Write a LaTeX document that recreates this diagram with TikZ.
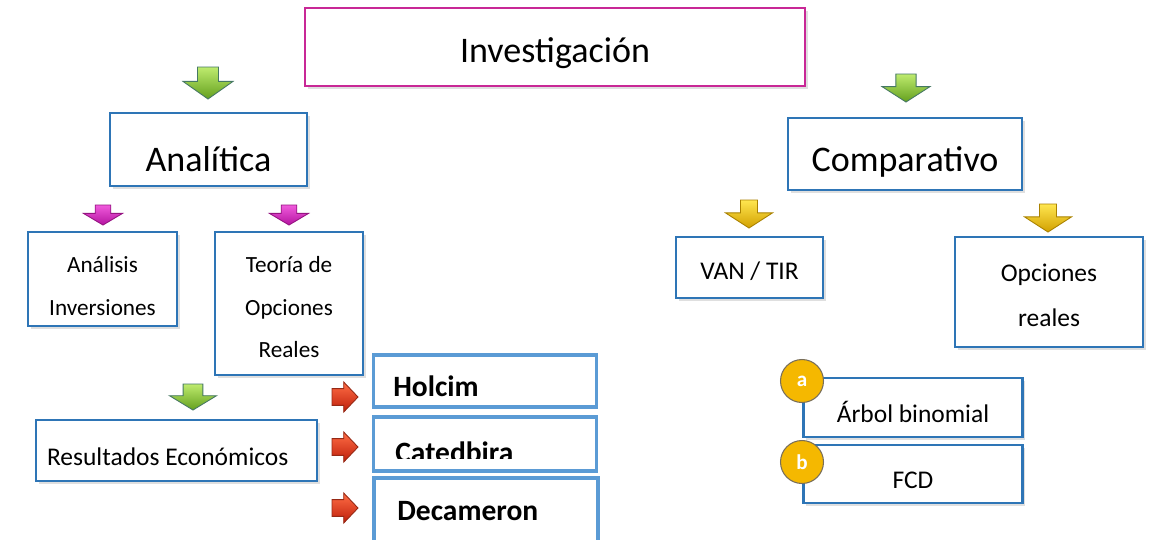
\documentclass[tikz,border=0pt]{standalone}
\usepackage{fontspec}
\setmainfont{Carlito}
\usetikzlibrary{shadows}

\definecolor{boxblue}{RGB}{46,117,182}
\definecolor{lightblue}{RGB}{91,155,213}
\definecolor{invpink}{RGB}{200,40,150}
\definecolor{badge}{RGB}{245,184,0}

\tikzset{
  box/.style={draw=boxblue, line width=1.6pt, fill=white, align=center,
    drop shadow={shadow xshift=1.5pt, shadow yshift=-1.5pt, opacity=0.25},
    font=\fontsize{14.5}{26}\selectfont},
  smallbox/.style={box, font=\fontsize{13.2}{24.4}\selectfont},
  bigbox/.style={box, font=\fontsize{20.5}{24}\selectfont},
  firmbox/.style={draw=lightblue, line width=1.8pt, fill=white, anchor=west, inner sep=0pt},
  firmtext/.style={anchor=base west, inner sep=0pt, font=\fontsize{16.8}{20}\selectfont\bfseries},
  greenarrow/.style={draw={rgb,255:red,70;green,120;blue,100}, line width=0.5pt,
    top color={rgb,255:red,190;green,235;blue,110}, bottom color={rgb,255:red,100;green,160;blue,30}},
  pinkarrow/.style={draw={rgb,255:red,150;green,20;blue,130}, line width=0.5pt,
    top color={rgb,255:red,240;green,90;blue,220}, bottom color={rgb,255:red,180;green,20;blue,160}},
  goldarrow/.style={draw={rgb,255:red,170;green,130;blue,0}, line width=0.5pt,
    top color={rgb,255:red,255;green,230;blue,80}, bottom color={rgb,255:red,210;green,160;blue,0}},
  redarrow/.style={draw={rgb,255:red,150;green,40;blue,20}, line width=0.5pt,
    top color={rgb,255:red,255;green,110;blue,70}, bottom color={rgb,255:red,190;green,30;blue,10}},
  % unit block arrows, sized with xscale/yscale
  greendown/.pic={\path[greenarrow] (-0.21,0) -- (0.21,0) -- (0.21,0.45) -- (0.5,0.45) -- (0,1) -- (-0.5,0.45) -- (-0.21,0.45) -- cycle;},
  pinkdown/.pic={\path[pinkarrow] (-0.2,0) -- (0.2,0) -- (0.2,0.42) -- (0.5,0.42) -- (0,1) -- (-0.5,0.42) -- (-0.2,0.42) -- cycle;},
  golddown/.pic={\path[goldarrow] (-0.18,0) -- (0.18,0) -- (0.18,0.46) -- (0.5,0.46) -- (0,1) -- (-0.5,0.46) -- (-0.18,0.46) -- cycle;},
  redright/.pic={\path[redarrow] (0,-0.28) -- (0.45,-0.28) -- (0.45,-0.5) -- (1,0) -- (0.45,0.5) -- (0.45,0.28) -- (0,0.28) -- cycle;},
  badgecirc/.style={circle, draw={rgb,255:red,120;green,110;blue,90}, line width=0.6pt,
    fill=badge, minimum size=0.86cm, inner sep=0pt, text=white, font=\large\bfseries}
}

\begin{document}
\begin{tikzpicture}[x=0.02cm,y=-0.02cm]
\useasboundingbox[fill=white] (0,0) rectangle (1173,539);

% top level
\node[bigbox, draw=invpink, minimum width=10cm, minimum height=1.56cm,
  text height=21.6pt, text depth=4pt] (inv) at (555,47) {Investigación};

\pic[xscale=50, yscale=32] (ga) at (208,67) {greendown};
\pic[xscale=48, yscale=28] (gc) at (906,74) {greendown};

\node[bigbox, minimum width=3.94cm, minimum height=1.46cm,
  text height=24.5pt, text depth=0pt] (ana) at (208.5,149.5) {Analítica};
\node[bigbox, minimum width=4.68cm, minimum height=1.44cm,
  text height=23.8pt, text depth=4pt] (comp) at (905,154) {Comparativo};

% left branch
\pic[xscale=39, yscale=20] (pa) at (103,205) {pinkdown};
\pic[xscale=39, yscale=20] (pt) at (289,205) {pinkdown};

\node[smallbox, minimum width=2.98cm, minimum height=1.88cm] (anainv) at (102.5,279)
  {\rule{0pt}{16.8pt}Análisis\\Inversiones};
\node[smallbox, minimum width=2.96cm, minimum height=2.86cm] (teoria) at (289,303.5)
  {\rule{0pt}{13.3pt}Teoría de\\Opciones\\Reales};

\pic[xscale=47, yscale=26] (gr) at (193,384) {greendown};
\node[box, minimum width=5.62cm, minimum height=1.22cm,
  text height=17pt, text depth=0pt] (res) at (176.5,450.5) {Resultados Económicos\hspace*{10pt}};

% firms
\pic[xscale=26, yscale=30] (rh) at (332,397) {redright};
\pic[xscale=26, yscale=30] (rc) at (332,447) {redright};
\pic[xscale=26, yscale=30] (rd) at (332,508) {redright};

\node[firmbox, minimum width=4.46cm, minimum height=1.04cm] (holcim) at (372,381) {};
\node[firmtext] (holcimtxt) at (393,396) {Holcim};
\begin{scope}
\clip (372,418) rectangle (594,458);
\node[firmtext] (catedtxt) at (395,462) {Catedbira};
\end{scope}
\node[firmbox, minimum width=4.46cm, minimum height=1.08cm, fill=none] (cated) at (372,444) {};
\node[firmbox, line width=2.4pt, minimum width=4.48cm, minimum height=1.36cm] (deca) at (372,512) {};
\node[firmtext] (decatxt) at (397,520) {Decameron};

% right branch
\pic[xscale=47, yscale=28] (yv) at (749,200) {golddown};
\pic[xscale=47, yscale=28] (yo) at (1048,204) {golddown};

\node[box, minimum width=2.94cm, minimum height=1.22cm,
  text height=15pt, text depth=1.5pt] (van) at (749.5,267.5) {VAN / TIR};
\node[box, minimum width=3.76cm, minimum height=2.2cm] (opc) at (1049,292)
  {\rule{0pt}{13.8pt}Opciones\\reales};

\node[box, minimum width=4.38cm, minimum height=1.18cm,
  text height=17pt, text depth=0pt] (arbol) at (913,407.5) {Árbol binomial};
\node[box, minimum width=4.38cm, minimum height=1.16cm,
  text height=16pt, text depth=0pt] (fcd) at (913,474) {FCD};
\node[badgecirc] (ca) at (802,381) {a};
\node[badgecirc] (cb) at (802,462) {b};
\end{tikzpicture}
\end{document}
